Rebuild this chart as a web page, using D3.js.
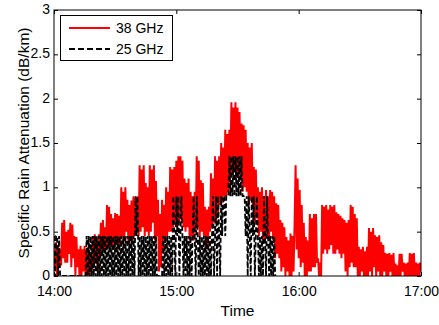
<!DOCTYPE html>
<html>
<head>
<meta charset="utf-8">
<script src="https://cdn.jsdelivr.net/npm/d3@7"></script>
<style>
  html, body { margin: 0; padding: 0; background: #fff; }
  svg { display: block; }
  text { font-family: "Liberation Sans", Arial, sans-serif; fill: #000; }
</style>
</head>
<body>
<svg id="chart" width="439" height="325"></svg>
<script>
// ---------------- DATA ----------------
const seriesNames = ["38 GHz", "25 GHz"];
const startHour = 14;          // first sample at 14:00
const sampleSeconds = 30;      // one sample every 30 s
const xTickLabels = ["14:00", "15:00", "16:00", "17:00"];
const xTickHours = [14, 15, 16, 17];
const yTicks = [0, 0.5, 1, 1.5, 2, 2.5, 3];
const yTickLabels = ["0", "0.5", "1", "1.5", "2", "2.5", "3"];

// 38 GHz specific rain attenuation (dB/km)
const att38 = [
  0.3,0.05,0.38, 0.0,0.35,0.1,0.3, 0.12,0.6,0.2,0.63,0.15, 0.5,0.15,0.52,0.25,
  0.6,0.1,0.58,0.2,0.45, 0.0,0.44,0.1,0.3,0.0, 0.34,0.0,0.3,0.05,0.34,0.0,
  0.28,0.0,0.3,0.02,0.25, 0.05,0.45,0.1,0.47,0.15,0.4,0.05,0.47,
  0.2,0.6,0.25,0.63,0.3,0.55, 0.3,0.8,0.35,0.78, 0.3,0.7,0.35,0.65,
  0.3,0.71,0.4,0.7,0.3,0.68, 0.35,1.0,0.45,0.95,0.4,1.0,0.5,
  0.86,0.35,0.8,0.4,0.85, 0.4,0.9,0.45,0.88,0.5,0.9, 0.45,1.25,0.5,1.2,0.55,1.25,
  0.45,1.05,0.5,1.0,0.45, 1.25,0.5,1.2,0.6,1.25, 0.4,1.07,0.45,
  0.86,0.05,0.7,0.1,0.86,0.3,0.8, 0.4,1.0,0.45,0.95,0.5, 1.23,0.5,1.2,0.55,1.23,0.6,
  1.3,0.55,1.35,0.6,1.35,0.65,1.3,0.55, 1.1,0.5,1.05,0.55,1.1, 0.4,0.95,0.45,0.9,0.4,0.95,
  0.5,1.35,0.55,1.3, 0.45,1.08,0.5,1.05,0.45, 0.78,0.3,0.75,0.35,0.78,
  0.5,1.16,0.55,1.1,0.6, 1.35,0.6,1.3,0.7,1.35, 0.8,1.5,0.85,1.45,0.9,
  1.65,0.9,1.6,0.95,1.65, 1.1,1.96,1.15,1.9,1.2,1.96, 1.1,1.9,1.15,1.85,1.1,
  1.72,0.95,1.7,1.0,1.65,0.95, 1.5,0.8,1.45,0.85,1.5,0.8, 1.23,0.6,1.2,0.65,
  1.0,0.45,0.95,0.5,1.0,0.4,0.9, 0.4,0.97,0.45,0.9,0.4,0.97,0.5,0.95,0.4,0.9,
  0.2,0.82,0.25,0.8,0.2, 0.63,0.05,0.6,0.1,0.55, 0.0,0.44,0.05,0.4,0.0,
  0.48,0.0,0.45,0.05, 0.6,1.25,0.3,1.1,0.2, 0.97,0.1,0.8,0.15,0.6,
  0.0,0.44,0.0,0.4,0.05, 0.7,0.05,0.65,0.1,0.7, 0.1,0.7,0.15, 0.2,0.0,0.15,0.0,
  0.8,0.25,0.78,0.3,0.8,0.25,0.75,0.3,0.8,0.35,0.78,0.25,0.8,
  0.25,0.72,0.3,0.7,0.25, 0.68,0.2,0.65,0.25, 0.63,0.05,0.6,0.0,0.63,
  0.1,0.8,0.15,0.78,0.1, 0.7,0.1,0.65,
  0.0,0.33,0.0,0.3,0.05,0.33,0.0,0.28,0.0,0.33, 0.0,0.54,0.05,0.5,0.0,0.54,0.1,
  0.46,0.0,0.44,0.05,0.46, 0.0,0.38,0.0,0.35,0.05,
  0.26,0.0,0.25,0.0,0.26,0.05,0.24,0.0,0.26,0.0, 0.14,0.0,0.12,0.0,
  0.25,0.0,0.25,0.05, 0.15,0.0,0.14,0.0,0.15,0.0, 0.26,0.0,0.25,0.0,0.26,0.0,
  0.15,0.0,0.14,0.0,0.15,0.05
];

// 25 GHz specific rain attenuation (dB/km), quantised levels
const att25 = [
  0.45,0,0.45,0.45,0,0.45,0,
  0,0,0,0,0,0,0,0,0,0,0,0,0,0,0,0,0,0,0,0,0,0,0,0,0,
  0.45,0,0.45,0,0.45,0,0.45,0,0.45,0,0.45,0,0.45,0,0.45,0,0.45,0,0.45,0,0.45,0,0.45,0,
  0.45,0,0.45,0,0.45,0,0.45,0,0.45,0,0.45,0,0.45,0,0.45,0,0.45,0,0.45,0,0.45,0,0.45,0,
  0.9,0.45,0.9,
  0,0.45,0,0.45,0,0.45,0,0.45,0,0.45,0,0.45,0,0.45,0,0.45,0,0.45,
  0,0,0,0,0,0,
  0.45,0,0.45,0,0.45,0,0.45,0,0.45,0,
  0.9,0.45,0,0.9,0.45,0.9,0,0.45,0.9,0.45,0,
  0.45,0,0.45,0,0.45,0,0.45,0,0.45,
  0.9,0.45,0,0.9,0.45,0,
  0.45,0,0.45,0,0.45,0,0.45,0,0.45,0,0.45,0,0.45,
  0.9,0,0.45,0.9,0,0.9,0.45,0,0.9,0.45,0.9,
  0.9,0.45,0.9, 0.9,0.9,
  1.35,0.9,1.35,0.9,1.35,0.9,1.35,0.9,1.35,0.9,1.35,0.9,1.35,
  0.9,0.9,0.9,
  0.45,0.9,0,0.9,0.45,0,0.9,0.45,0.9,0,0.45,0.9,
  0.45,0,0.45,0,0.45,0,
  0.9,0.45,0,0.9,0.45,
  0,0.45,0,0.45,0,0.45,0
];

// ---------------- CHART ----------------
const svg = d3.select("#chart");
const L = 54, R = 421, T = 10, B = 276;

const hourDate = h => new Date(Date.UTC(2000, 0, 1, h, 0, 0));
const sampleDate = i => new Date(hourDate(startHour).getTime() + i * sampleSeconds * 1000);

const x = d3.scaleUtc().domain([hourDate(14), hourDate(17)]).range([L, R]);
const y = d3.scaleLinear().domain([0, 3]).range([B, T]);

svg.append("defs").append("clipPath").attr("id", "clip")
  .append("rect").attr("x", L).attr("y", T).attr("width", R - L).attr("height", B - T);

const line = d3.line().x((d, i) => x(sampleDate(i))).y(d => y(d));

const plot = svg.append("g").attr("clip-path", "url(#clip)");
plot.append("path").datum(att38)
  .attr("d", line).attr("fill", "none").attr("stroke", "#ff0000").attr("stroke-width", 2);
plot.append("path").datum(att25)
  .attr("d", line).attr("fill", "none").attr("stroke", "#000").attr("stroke-width", 1.8)
  .attr("stroke-dasharray", "5,2.5");

// box
svg.append("rect").attr("x", L).attr("y", T).attr("width", R - L).attr("height", B - T)
  .attr("fill", "none").attr("stroke", "#000").attr("stroke-width", 1);

const xTickDates = xTickHours.map(hourDate);

const styleAxis = g => {
  g.select(".domain").remove();
  g.selectAll(".tick line").attr("stroke", "#000");
  g.selectAll("text").attr("font-size", 14).attr("font-family", "Liberation Sans, Arial, sans-serif");
};

svg.append("g").attr("transform", `translate(0,${B})`)
  .call(d3.axisBottom(x).tickValues(xTickDates).tickFormat((d, i) => xTickLabels[i])
    .tickSizeInner(-4).tickSizeOuter(0).tickPadding(10))
  .call(styleAxis);
svg.append("g").attr("transform", `translate(0,${T})`)
  .call(d3.axisTop(x).tickValues(xTickDates).tickFormat("")
    .tickSizeInner(-4).tickSizeOuter(0))
  .call(styleAxis);
svg.append("g").attr("transform", `translate(${L},0)`)
  .call(d3.axisLeft(y).tickValues(yTicks).tickFormat((d, i) => yTickLabels[i])
    .tickSizeInner(-4).tickSizeOuter(0).tickPadding(4))
  .call(styleAxis)
  .call(g => g.selectAll("text").attr("dy", "0.26em"));
svg.append("g").attr("transform", `translate(${R},0)`)
  .call(d3.axisRight(y).tickValues(yTicks).tickFormat("")
    .tickSizeInner(-4).tickSizeOuter(0))
  .call(styleAxis);

// axis labels
svg.append("text").attr("x", (L + R) / 2).attr("y", 316)
  .attr("text-anchor", "middle").attr("font-size", 15.5).text("Time");
svg.append("text").attr("transform", `translate(29,${(T + B) / 2}) rotate(-90)`)
  .attr("text-anchor", "middle").attr("font-size", 15.5).text("Specific Rain Attenuation (dB/km)");

// legend
const lg = svg.append("g");
lg.append("rect").attr("x", 60.5).attr("y", 15.5).attr("width", 112).attr("height", 45)
  .attr("fill", "#fff").attr("stroke", "#000").attr("stroke-width", 1);
const legendItems = [
  { name: seriesNames[0], color: "#ff0000", dash: null, yy: 28 },
  { name: seriesNames[1], color: "#000", dash: "6,3", yy: 49 }
];
legendItems.forEach(it => {
  lg.append("line").attr("x1", 69).attr("x2", 110).attr("y1", it.yy).attr("y2", it.yy)
    .attr("stroke", it.color).attr("stroke-width", 2)
    .attr("stroke-dasharray", it.dash);
  lg.append("text").attr("x", 116).attr("y", it.yy + 5).attr("font-size", 14).text(it.name);
});
</script>
</body>
</html>
